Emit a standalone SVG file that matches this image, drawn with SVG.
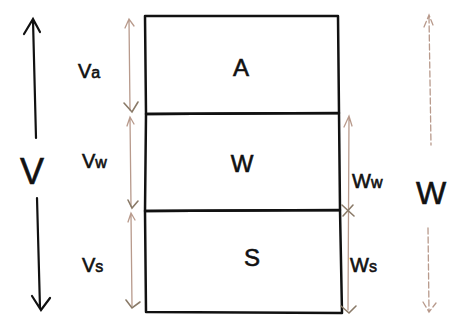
<svg xmlns="http://www.w3.org/2000/svg" width="458" height="320" viewBox="0 0 458 320">
<style>
.box{fill:none;stroke:#111;stroke-width:2.5;stroke-linejoin:round}
.big{fill:none;stroke:#111;stroke-width:2.2;stroke-linecap:round}
.thin{fill:none;stroke:#b89a8c;stroke-width:1.3;stroke-linecap:round}
.tk{fill:none;stroke:#8a7a68;stroke-width:1.6;stroke-linecap:round}
text{font-family:"Liberation Sans","DejaVu Sans",sans-serif;fill:#111;stroke:#111;stroke-width:0.6}
.lab{font-size:20px}
.ph{font-size:24px}
</style>
<rect width="458" height="320" fill="#fff"/>
<g id="node-A"><path class="box" d="M145,16 L338,16 L339,113 L146,114 Z"/><text class="ph" x="241" y="76" text-anchor="middle">A</text></g>
<g id="node-W"><path class="box" d="M146,114 L339,113 L340,210 L145,211 Z"/><text class="ph" x="242" y="172" text-anchor="middle">W</text></g>
<g id="node-S"><path class="box" d="M145,211 L340,210 L342,313 L146,312 Z"/><text class="ph" x="252" y="266" text-anchor="middle">S</text></g>
<g id="connectors">
<path class="big" d="M36,138 L33,20 M24,34 L33,19 L40,32"/>
<path class="big" d="M37,198 L40,308 M32,296 L41,310 L50,298"/>
<path class="thin" d="M129,20 L130,110 M125,28 L129,19 L134,26"/>
<path class="tk" d="M124,103 L132,112 L138,102"/>
<path class="thin" d="M130,118 L131,206 M127,126 L130,117 L134,124"/>
<path class="tk" d="M128,200 L132,208 L138,201"/>
<path class="thin" d="M131,215 L132,306 M128,222 L131,213 L135,220"/>
<path class="tk" d="M126,300 L132,308 L140,302"/>
<path class="thin" d="M349,118 L348,310 M344,127 L349,116 L352,126"/>
<path class="tk" d="M342,205 L354,216 M343,216 L353,205"/>
<path class="tk" d="M341,306 L349,313 L356,306"/>
<path class="thin" stroke-dasharray="6,3" d="M429,17 L431,145 M424,27 L429,15 L433,25"/>
<path class="thin" stroke-dasharray="6,3" d="M428,228 L429,310 M423,302 L429,312 L436,303"/>
</g>
<g id="labels">
<text class="lab" x="78" y="78">V<tspan style="font-size:16px">a</tspan></text>
<text class="lab" x="82" y="168">V<tspan style="font-size:16px">w</tspan></text>
<text class="lab" x="82" y="272">V<tspan style="font-size:16px">s</tspan></text>
<text x="20" y="184" style="font-size:36px">V</text>
<text class="lab" x="352" y="188">W<tspan style="font-size:16px">w</tspan></text>
<text class="lab" x="350" y="272">W<tspan style="font-size:16px">s</tspan></text>
<text x="416" y="204" style="font-size:32px">W</text>
</g>
</svg>
